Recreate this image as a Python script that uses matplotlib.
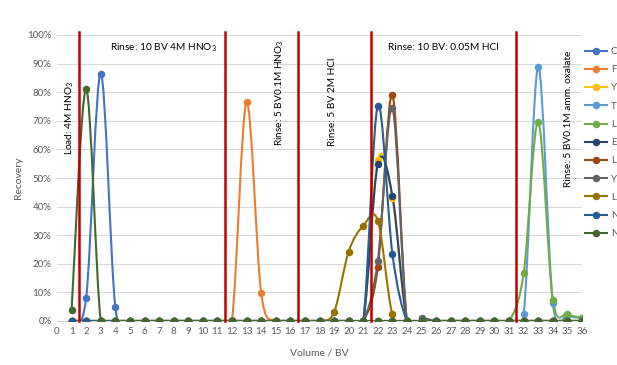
import numpy as np
import matplotlib
matplotlib.use('Agg')
import matplotlib.pyplot as plt
from matplotlib.path import Path
from matplotlib.patches import PathPatch
from matplotlib.lines import Line2D

plt.rcParams['font.family'] = ['Lato', 'DejaVu Sans']
plt.rcParams['mathtext.fontset'] = 'custom'
plt.rcParams['mathtext.rm'] = 'Lato'
plt.rcParams['mathtext.default'] = 'regular'

# fraction volumes (BV)
volume = list(range(1, 37))

def series(peaks):
    vals = [0.0] * 36
    for k, v in peaks.items():
        vals[k - 1] = v
    return vals

# recovery (fraction) per fraction
labels = ['C', 'F', 'Y', 'T', 'L', 'E', 'L', 'Y', 'L', 'N', 'N']
colors_ = ['#4472C4', '#ED7D31', '#FFC000', '#5B9BD5', '#70AD47', '#264478',
           '#9E480E', '#636363', '#997300', '#255E91', '#43682B']
rec_c = series({2: 0.082, 3: 0.865, 4: 0.05})
rec_f = series({12: 0.005, 13: 0.765, 14: 0.098})
rec_y = series({22: 0.563, 23: 0.429})
rec_t = series({32: 0.024, 33: 0.887, 34: 0.064, 35: 0.02, 36: 0.01})
rec_l1 = series({32: 0.167, 33: 0.695, 34: 0.075, 35: 0.025, 36: 0.012})
rec_e = series({22: 0.549, 23: 0.438})
rec_l2 = series({22: 0.188, 23: 0.789})
rec_y2 = series({22: 0.21, 23: 0.744, 25: 0.01})
rec_l3 = series({19: 0.031, 20: 0.243, 21: 0.333, 22: 0.351, 23: 0.023})
rec_n1 = series({22: 0.752, 23: 0.234})
rec_n2 = series({1: 0.039, 2: 0.81})
data = [rec_c, rec_f, rec_y, rec_t, rec_l1, rec_e, rec_l2, rec_y2, rec_l3, rec_n1, rec_n2]

# step boundaries
steps = [1.5, 11.5, 16.5, 21.5, 31.5]


def smooth_path(x, y):
    # excel style smoothed line: cubic bezier, catmull-rom tangents
    p = np.column_stack([x, y]).astype(float)
    n = len(p)
    verts = [p[0]]
    codes = [Path.MOVETO]
    for i in range(n - 1):
        p0 = p[i - 1] if i > 0 else p[i]
        p3 = p[i + 2] if i + 2 < n else p[i + 1]
        c1 = p[i] + (p[i + 1] - p0) / 6.0
        c2 = p[i + 1] - (p3 - p[i]) / 6.0
        verts += [c1, c2, p[i + 1]]
        codes += [Path.CURVE4] * 3
    return Path(verts, codes)


fig = plt.figure(figsize=(6.17, 3.65), dpi=100)
ax = fig.add_axes([57 / 617, 1 - 321 / 365, 525 / 617, 286 / 365])

for vals, c in zip(data, colors_):
    ax.add_patch(PathPatch(smooth_path(volume, vals), fill=False, edgecolor=c,
                           lw=1.5, zorder=3, capstyle='round'))
    ax.plot(volume, vals, ls='none', marker='o', ms=4.4, color=c, zorder=4)

for s in steps:
    ax.plot([s, s], [0, 1.01], color='#C00000', lw=1.8, zorder=5, clip_on=False)

ax.set_xlim(0, 36)
ax.set_ylim(0, 1)
ax.set_xticks(range(0, 37))
ax.set_yticks(np.arange(0, 1.01, 0.1))
ax.set_yticklabels(['%d%%' % v for v in range(0, 101, 10)])
ax.tick_params(length=0, labelsize=7, colors='#595959', pad=4)
ax.grid(axis='y', color='#D9D9D9', lw=0.8)
ax.set_axisbelow(True)
for sp in ['top', 'right', 'left']:
    ax.spines[sp].set_visible(False)
ax.spines['bottom'].set_color('#D9D9D9')
ax.set_xlabel('Volume / BV', fontsize=7.5, color='#595959', labelpad=9)
ax.set_ylabel('Recovery', fontsize=7.5, color='#595959', labelpad=3)

tk = dict(fontsize=7.3, color='black', zorder=6)
ax.text(0.86, 0.84, 'Load: 4M HNO$_3$', rotation=90, ha='center', va='top', **tk)
ax.text(3.65, 0.956, 'Rinse: 10 BV 4M HNO$_3$', ha='left', va='center', **tk)
ax.text(15.3, 0.985, 'Rinse: 5 BV0.1M HNO$_3$', rotation=90, ha='center', va='top', **tk)
ax.text(18.9, 0.92, 'Rinse: 5 BV 2M HCl', rotation=90, ha='center', va='top', **tk)
ax.text(22.7, 0.956, 'Rinse: 10 BV: 0.05M HCl', ha='left', va='center', **tk)
ax.text(35.05, 0.945, 'Rinse: 5 BV0.1M amm. oxalate', rotation=90, ha='center', va='top', **tk)

handles = [Line2D([], [], color=c, marker='o', ms=4.4, lw=1.5) for c in colors_]
fig.legend(handles, labels, loc='upper left', bbox_to_anchor=(585 / 617, 1 - 47 / 365),
           frameon=False, fontsize=7, labelspacing=0.95, handlelength=2.3,
           handletextpad=0.35, borderpad=0, borderaxespad=0, labelcolor='#595959')

plt.savefig('out.png', dpi=100)
plt.close()
